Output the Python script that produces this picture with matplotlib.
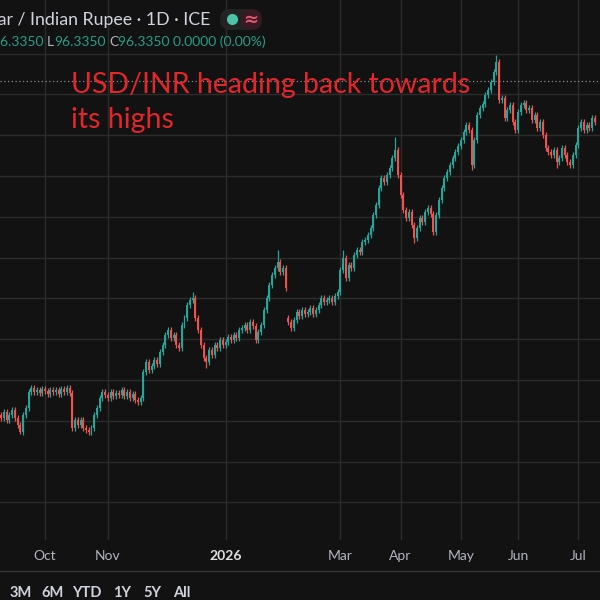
import matplotlib
matplotlib.use("Agg")
import matplotlib.pyplot as plt
from matplotlib.lines import Line2D
from matplotlib.patches import FancyBboxPatch
import pandas as pd

# daily closes, USD/INR (ICE), from 2025-09-08
closes = [
    88.14, 88.07, 88.22, 88.02, 88.14, 88.27, 88.07, 87.90, 87.73, 88.14,
    88.32, 88.71, 88.81, 88.71, 88.76, 88.68, 88.78, 88.73, 88.66, 88.76,
    88.71, 88.76, 88.66, 88.78, 88.71, 88.81, 88.68, 87.83, 88.02, 87.90,
    88.02, 87.83, 87.78, 87.73, 87.83, 88.14, 88.32, 88.56, 88.71, 88.64,
    88.56, 88.71, 88.61, 88.68, 88.64, 88.76, 88.61, 88.71, 88.56, 88.66,
    88.51, 88.46, 88.56, 89.20, 89.44, 89.25, 89.35, 89.49, 89.39, 89.69,
    89.86, 90.11, 90.23, 90.03, 90.11, 89.86, 89.79, 90.35, 90.52, 90.84,
    90.96, 91.01, 90.52, 90.23, 89.86, 89.54, 89.44, 89.74, 89.62, 89.86,
    89.79, 89.98, 89.86, 89.93, 90.06, 89.98, 90.11, 90.03, 90.23, 90.28,
    90.35, 90.23, 90.42, 90.33, 89.98, 90.18, 90.35, 90.72, 91.01, 91.33,
    91.58, 91.75, 91.89, 91.65, 91.75, 91.26, 90.42, 90.28, 90.47, 90.67,
    90.57, 90.72, 90.62, 90.67, 90.77, 90.62, 90.72, 90.84, 91.01, 90.91,
    90.96, 91.01, 90.91, 91.06, 91.16, 91.70, 91.99, 91.50, 91.82, 91.75,
    92.07, 92.19, 92.14, 92.38, 92.43, 92.56, 92.73, 93.05, 93.29, 93.71,
    93.95, 93.86, 94.03, 94.20, 94.44, 94.64, 94.03, 93.54, 93.17, 92.97,
    93.12, 92.80, 92.48, 92.73, 92.97, 92.88, 93.12, 93.22, 93.07, 92.63,
    93.05, 93.41, 93.71, 93.95, 94.10, 94.27, 94.44, 94.59, 94.74, 94.88,
    95.08, 95.25, 95.13, 94.27, 94.88, 95.50, 95.67, 95.77, 95.99, 96.11,
    96.31, 96.55, 96.80, 95.87, 95.91, 95.42, 95.62, 95.74, 95.33, 95.13,
    95.57, 95.74, 95.79, 95.62, 95.67, 95.37, 95.50, 95.18, 95.33, 95.01,
    94.69, 94.59, 94.52, 94.64, 94.35, 94.44, 94.69, 94.52, 94.35, 94.27,
    94.52, 94.76, 95.18, 95.33, 95.13, 95.25, 95.18, 95.42, 95.33,
]
first_open = 88.10
gap_opens = {"2026-02-03": 90.52}
spike_highs = {"2025-12-16": 91.16, "2026-01-28": 92.19, "2026-03-03": 92.19,
               "2026-03-30": 94.96, "2026-05-20": 96.97}
spike_lows = {"2025-09-18": 87.68, "2025-10-23": 87.65, "2025-12-23": 89.30,
              "2026-04-08": 92.36, "2026-05-07": 94.15, "2026-06-19": 94.20}
last_price = 96.3350

month_starts = ["2025-10-01", "2025-11-01", "2026-01-01", "2026-03-01",
                "2026-04-01", "2026-05-01", "2026-06-01", "2026-07-01"]
month_labels = ["Oct", "Nov", "2026", "Mar", "Apr", "May", "Jun", "Jul"]
range_buttons = ["3M", "6M", "YTD", "1Y", "5Y", "All"]
title_lines = ["USD/INR heading back towards", "its highs"]

BG = "#121212"
GRID = "#2c2c2c"
UP = "#26a69a"
DOWN = "#ef5350"
FONT = "Lato"

dates = pd.bdate_range("2025-09-08", periods=len(closes))
opens = [first_open] + closes[:-1]
for d, v in gap_opens.items():
    opens[dates.get_loc(pd.Timestamp(d))] = v
highs = [max(o, c) + 0.07 for o, c in zip(opens, closes)]
lows = [min(o, c) - 0.07 for o, c in zip(opens, closes)]
for d, v in spike_highs.items():
    highs[dates.get_loc(pd.Timestamp(d))] = v
for d, v in spike_lows.items():
    lows[dates.get_loc(pd.Timestamp(d))] = v

fig = plt.figure(figsize=(6, 6), dpi=100, facecolor=BG)
ax = fig.add_axes([0, 0.1, 1, 0.9], facecolor=BG)

idx = list(range(len(closes)))
colors = [UP if c >= o else DOWN for o, c in zip(opens, closes)]
ax.vlines(idx, lows, highs, colors=colors, lw=0.9, zorder=3)
bottoms = [min(o, c) for o, c in zip(opens, closes)]
heights = [max(abs(c - o), 0.02) for o, c in zip(opens, closes)]
ax.bar(idx, heights, bottom=bottoms, width=0.72, color=colors, linewidth=0, zorder=4)

ax.axhline(last_price, color="#8a8a8a", lw=0.9, ls=(0, (1, 2)), zorder=2)

month_idx = [int(dates.searchsorted(pd.Timestamp(m))) for m in month_starts]
ax.set_xticks(month_idx)
ax.set_yticks(range(86, 98))
ax.grid(True, color=GRID, lw=1)
ax.tick_params(length=0, labelleft=False, labelbottom=False)
for s in ax.spines.values():
    s.set_visible(False)
ax.set_xlim(0.55, 219.9)
ax.set_ylim(85.08, 98.316)

for x, lab in zip(month_idx, month_labels):
    bold = lab.isdigit()
    ax.text(x, -16 / 540, lab, transform=ax.get_xaxis_transform(), ha="center", va="center",
            fontsize=10, family=FONT, color="#e0e0e0" if bold else "#b2b5be",
            fontweight="bold" if bold else "normal", clip_on=False)

# red annotation on the chart
fig.text(71 / 600, 1 - 93 / 600, title_lines[0], ha="left", va="baseline",
         fontsize=20.5, family=FONT, color="#e3262b")
fig.text(71 / 600, 1 - 128 / 600, title_lines[1], ha="left", va="baseline",
         fontsize=20.5, family=FONT, color="#e3262b")

# time axis separator and range buttons
fig.add_artist(Line2D([0, 1], [1 - 571 / 600] * 2, transform=fig.transFigure, color="#333333", lw=1))
for x, lab in zip([21, 52, 87, 122, 152, 182], range_buttons):
    fig.text(x / 600, 1 - 593 / 600, lab, ha="center", va="center", fontsize=10.5,
             family=FONT, fontweight="bold", color="#d1d4dc")

# header, cut off on the left as in the screenshot
fig.text(210 / 600, 1 - 20 / 600, "U.S. Dollar / Indian Rupee · 1D · ICE", ha="right", va="center",
         fontsize=12.8, family=FONT, color="#d1d4dc")

pill = FancyBboxPatch((220 / 600, 1 - 30 / 600), 42 / 600, 21 / 600,
                      boxstyle="round,pad=0,rounding_size=0.017", transform=fig.transFigure,
                      facecolor="#232323", edgecolor="none")
fig.add_artist(pill)
pill2 = FancyBboxPatch((241 / 600, 1 - 29 / 600), 20 / 600, 19 / 600,
                       boxstyle="round,pad=0,rounding_size=0.015", transform=fig.transFigure,
                       facecolor="#3a1a22", edgecolor="none")
fig.add_artist(pill2)
fig.add_artist(Line2D([232 / 600], [1 - 19 / 600], transform=fig.transFigure, marker="o",
                      markersize=7, color="#4fc3a8", linestyle="none"))
fig.text(251 / 600, 1 - 20 / 600, "≈", ha="center", va="center", fontsize=13,
         family="DejaVu Sans", fontweight="bold", color="#e0576e")

teal = "#2a9d86"
gray = "#b2b5be"
pieces = [("O", gray), ("96.3350 ", teal), ("H", gray), ("96.3350 ", teal), ("L", gray),
          ("96.3350 ", teal), ("C", gray), ("96.3350 0.0000 (0.00%)", teal)]
prev = fig.text(266 / 600, 1 - 42 / 600, pieces[-1][0], ha="right", va="center",
                fontsize=10, family=FONT, color=pieces[-1][1])
for txt, col in reversed(pieces[:-1]):
    gap = 2.5 if txt.endswith(" ") else 0
    prev = ax.annotate(txt.strip(), xy=(0, 0.5), xycoords=prev, xytext=(-gap, 0),
                       textcoords="offset points", ha="right", va="center",
                       fontsize=10, family=FONT, color=col, annotation_clip=False)

fig.savefig("out.png", dpi=100, facecolor=BG)
